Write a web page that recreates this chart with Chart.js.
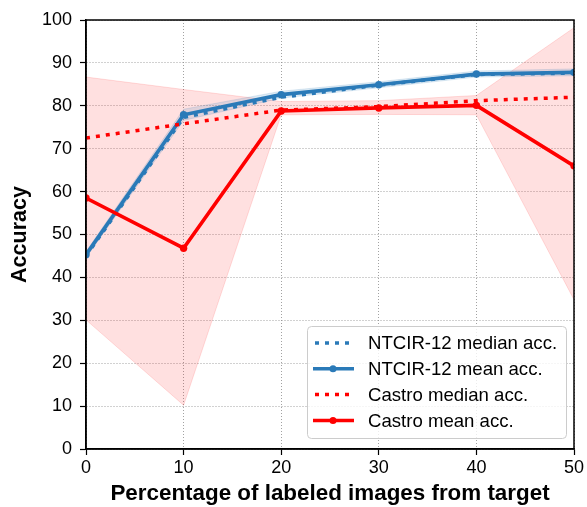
<!DOCTYPE html>
<html><head><meta charset="utf-8">
<script src="https://cdn.jsdelivr.net/npm/chart.js@4/dist/chart.umd.min.js"></script>
<style>html,body{margin:0;padding:0;background:#fff}#wrap{width:587px;height:507px}</style>
</head><body><div id="wrap"><canvas id="c" width="587" height="507"></canvas></div>
<script>
const xs = [0, 10, 20, 30, 40, 50];
const xTicks = [0, 10, 20, 30, 40, 50];
const yTicks = [0, 10, 20, 30, 40, 50, 60, 70, 80, 90, 100];
const ntcirMedian = [45.0, 77.3, 82.0, 84.8, 87.3, 87.6];
const ntcirMean = [45.3, 77.9, 82.6, 84.9, 87.4, 87.8];
const ntcirUpper = [46.0, 79.2, 83.4, 85.6, 88.1, 88.6];
const ntcirLower = [44.6, 76.6, 81.8, 84.2, 86.7, 87.0];
const castroMedian = [72.5, 75.8, 79.0, 79.8, 81.2, 82.0];
const castroMean = [58.5, 46.8, 78.8, 79.5, 80.1, 66.0];
const castroUpper = [86.7, 83.8, 81.0, 81.2, 82.4, 98.2];
const castroLower = [30.1, 10.2, 77.9, 78.0, 77.9, 34.8];
const xTitle = 'Percentage of labeled images from target';
const yTitle = 'Accuracy';

const BLUE = '#2a7ab8';
const RED = '#ff0000';
const FONT = "'Liberation Sans', Arial, sans-serif";
const pts = arr => arr.map((v, i) => ({x: xs[i], y: v}));

const datasets = [
  {label: 'NTCIR-12 median acc.', data: pts(ntcirMedian), borderColor: BLUE, borderWidth: 3.5,
   borderDash: [4, 6], pointRadius: 0, fill: false, order: 6, legend: true, dash: true},
  {label: 'NTCIR-12 mean acc.', data: pts(ntcirMean), borderColor: BLUE, backgroundColor: BLUE,
   borderWidth: 3.7, pointRadius: 3.7, pointBorderWidth: 0, fill: false, order: 5, legend: true},
  {data: pts(ntcirUpper), borderColor: 'rgba(42,122,184,0.15)', borderWidth: 1, pointRadius: 0, fill: false, order: 8},
  {data: pts(ntcirLower), borderColor: 'rgba(42,122,184,0.15)', borderWidth: 1, pointRadius: 0,
   fill: '-1', backgroundColor: 'rgba(42,122,184,0.15)', order: 8},
  {label: 'Castro median acc.', data: pts(castroMedian), borderColor: RED, borderWidth: 3.5,
   borderDash: [4, 6], pointRadius: 0, fill: false, order: 2, legend: true, dash: true},
  {label: 'Castro mean acc.', data: pts(castroMean), borderColor: RED, backgroundColor: RED,
   borderWidth: 3.7, pointRadius: 3.7, pointBorderWidth: 0, fill: false, order: 1, legend: true},
  {data: pts(castroUpper), borderColor: 'rgba(255,0,0,0.13)', borderWidth: 1, pointRadius: 0, fill: false, order: 9},
  {data: pts(castroLower), borderColor: 'rgba(255,0,0,0.13)', borderWidth: 1, pointRadius: 0,
   fill: '-1', backgroundColor: 'rgba(255,0,0,0.12)', order: 9}
];

const framePlugin = {
  id: 'frame',
  afterDraw(chart) {
    const {ctx, chartArea: a} = chart;
    ctx.save();
    ctx.strokeStyle = '#000';
    ctx.lineWidth = 1.5;
    ctx.strokeRect(a.left, a.top, a.right - a.left, a.bottom - a.top);
    // legend
    const items = chart.data.datasets.filter(d => d.legend);
    const bx = 307, by = 326, bw = 259, bh = 112, r = 4;
    ctx.fillStyle = 'rgba(255,255,255,0.8)';
    ctx.strokeStyle = '#cccccc';
    ctx.lineWidth = 1;
    ctx.beginPath();
    ctx.roundRect(bx + 0.5, by + 0.5, bw, bh, r);
    ctx.fill();
    ctx.stroke();
    ctx.font = '18.6px ' + FONT;
    ctx.textBaseline = 'middle';
    ctx.textAlign = 'left';
    items.forEach((d, i) => {
      const y = by + 17 + i * 25.8;
      ctx.strokeStyle = d.borderColor;
      ctx.lineWidth = 3.5;
      ctx.setLineDash(d.dash ? [4, 6] : []);
      ctx.beginPath();
      ctx.moveTo(d.dash ? 315 : 313, y);
      ctx.lineTo(354, y);
      ctx.stroke();
      ctx.setLineDash([]);
      if (!d.dash) {
        ctx.fillStyle = d.borderColor;
        ctx.beginPath();
        ctx.arc(333, y, 3.5, 0, Math.PI * 2);
        ctx.fill();
      }
      ctx.fillStyle = '#000';
      ctx.fillText(d.label, 368, y + 1);
    });
    ctx.restore();
  }
};

const gridOpts = {color: '#8a8a8a', lineWidth: 0.8, tickLength: 6,
                  tickColor: '#000', tickWidth: 1.2, tickBorderDash: []};
const borderOpts = {display: true, color: '#000', width: 1.5, dash: [1, 2]};

new Chart(document.getElementById('c'), {
  type: 'line',
  data: {datasets},
  plugins: [framePlugin],
  options: {
    responsive: false,
    animation: false,
    layout: {padding: {top: 20, right: 13, left: 0, bottom: 0}},
    plugins: {legend: {display: false}, tooltip: {enabled: false}},
    elements: {line: {tension: 0}},
    scales: {
      x: {
        type: 'linear', min: 0, max: 50,
        afterBuildTicks: s => { s.ticks = xTicks.map(v => ({value: v})); },
        afterFit: s => { s.height = 58; },
        ticks: {color: '#000', font: {family: FONT, size: 18}, padding: 2, maxRotation: 0},
        grid: gridOpts,
        border: borderOpts,
        title: {display: true, text: xTitle, color: '#000',
                font: {family: FONT, size: 22.4, weight: 'bold'}, padding: {top: 0, bottom: 0}}
      },
      y: {
        min: 0, max: 100,
        afterBuildTicks: s => { s.ticks = yTicks.map(v => ({value: v})); },
        afterFit: s => { s.width = 86; },
        ticks: {color: '#000', font: {family: FONT, size: 18}, padding: 8},
        grid: gridOpts,
        border: borderOpts,
        title: {display: true, text: yTitle, color: '#000',
                font: {family: FONT, size: 21.5, weight: 'bold'}, padding: {top: 7, bottom: 0}}
      }
    }
  }
});
</script>
</body></html>
